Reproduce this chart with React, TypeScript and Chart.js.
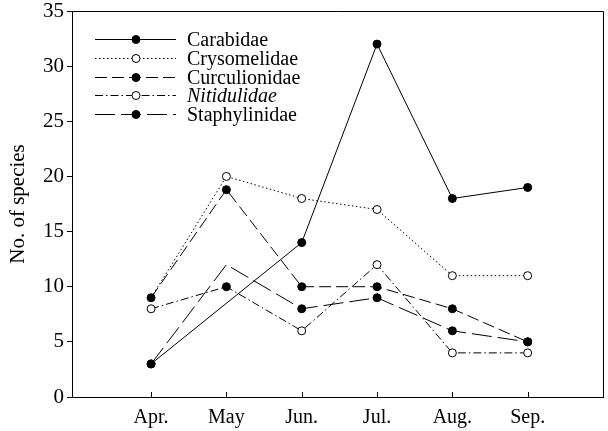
import React, { useEffect, useRef } from "react";
import { Chart, registerables } from "chart.js";

Chart.register(...registerables);

const months = ["Apr.", "May", "Jun.", "Jul.", "Aug.", "Sep."];
const carabidae: (number | null)[] = [3, null, 14, 32, 18, 19];
const crysomelidae = [9, 20, 18, 17, 11, 11];
const curculionidae = [9, 18.8, 10, 10, 8, 5];
const nitidulidae = [8, 10, 6, 12, 4, 4];
const staphylinidae = [3, 12, 8, 9, 6, 5];
const yTicks = [0, 5, 10, 15, 20, 25, 30, 35];

const FONT = "'Liberation Serif', 'DejaVu Serif', serif";

const toPts = (arr: (number | null)[]) => arr.map((v, i) => ({ x: i, y: v }));

const frameAndLegend = {
  id: "frameAndLegend",
  afterDraw(chart: any) {
    const { ctx, chartArea } = chart;
    const { left, right, top, bottom } = chartArea;
    ctx.save();
    ctx.strokeStyle = "#000";
    ctx.lineWidth = 1;
    ctx.setLineDash([]);
    ctx.beginPath();
    ctx.moveTo(left, top + 0.5);
    ctx.lineTo(right + 0.5, top + 0.5);
    ctx.lineTo(right + 0.5, bottom);
    ctx.stroke();
    const xs = chart.scales.x;
    months.forEach((_, i) => {
      const px = Math.round(xs.getPixelForValue(i)) + 0.5;
      ctx.beginPath();
      ctx.moveTo(px, bottom);
      ctx.lineTo(px, bottom - 5);
      ctx.stroke();
    });
    const x0 = 95, x1 = 176, xm = 136, tx = 187;
    chart.data.datasets.forEach((ds: any, i: number) => {
      const y = Math.round(39 + i * 18.8) + 0.5;
      ctx.strokeStyle = "#000";
      ctx.lineWidth = 1;
      ctx.setLineDash(ds.borderDash || []);
      ctx.beginPath();
      ctx.moveTo(x0, y);
      ctx.lineTo(x1, y);
      ctx.stroke();
      ctx.setLineDash([]);
      ctx.beginPath();
      ctx.arc(xm, y, 4, 0, Math.PI * 2);
      ctx.fillStyle = ds.legendFill;
      ctx.fill();
      ctx.stroke();
      ctx.fillStyle = "#000";
      ctx.font = (ds.italic ? "italic " : "") + "20px " + FONT;
      ctx.textBaseline = "middle";
      ctx.textAlign = "left";
      ctx.fillText(ds.label, tx, y + 1);
    });
    ctx.restore();
  },
};

export default function App() {
  const ref = useRef<HTMLCanvasElement | null>(null);
  useEffect(() => {
    document.body.style.margin = "0";
    const base = {
      borderColor: "#000",
      borderWidth: 1,
      pointBorderColor: "#000",
      pointBorderWidth: 1,
      pointRadius: 4,
      tension: 0,
      fill: false,
    };
    const chart = new Chart(ref.current as HTMLCanvasElement, {
      type: "line",
      data: {
        datasets: [
          {
            ...base,
            label: "Carabidae",
            data: toPts(carabidae),
            spanGaps: true,
            pointBackgroundColor: "#000",
            legendFill: "#000",
          },
          {
            ...base,
            label: "Crysomelidae",
            data: toPts(crysomelidae),
            borderDash: [1.5, 2.5],
            pointBackgroundColor: "#fff",
            pointRadius: [0, 4, 4, 4, 4, 4],
            legendFill: "#fff",
          },
          {
            ...base,
            label: "Curculionidae",
            data: toPts(curculionidae),
            borderDash: [12, 5],
            pointBackgroundColor: "#000",
            legendFill: "#000",
          },
          {
            ...base,
            label: "Nitidulidae",
            data: toPts(nitidulidae),
            borderDash: [8, 3, 1.5, 3],
            pointBackgroundColor: ["#fff", "#000", "#fff", "#fff", "#fff", "#fff"],
            legendFill: "#fff",
            italic: true,
          },
          {
            ...base,
            label: "Staphylinidae",
            data: toPts(staphylinidae),
            borderDash: [20, 6],
            pointBackgroundColor: "#000",
            pointRadius: [4, 0, 4, 4, 4, 4],
            legendFill: "#000",
          },
        ] as any,
      },
      options: {
        animation: false,
        responsive: false,
        maintainAspectRatio: false,
        layout: { padding: { top: 11, right: 4, left: 0, bottom: 0 } },
        plugins: { legend: { display: false }, tooltip: { enabled: false } },
        scales: {
          x: {
            type: "linear",
            min: -1.05,
            max: 6.0,
            afterBuildTicks: (s: any) => {
              s.ticks = months.map((_, i) => ({ value: i }));
            },
            afterFit: (s: any) => {
              s.height = 34;
              s.paddingLeft = 0;
              s.paddingRight = 0;
            },
            grid: { display: false, drawTicks: false, tickLength: 0 },
            border: { display: true, color: "#000", width: 1 },
            ticks: {
              color: "#000",
              font: { family: FONT, size: 20 },
              padding: 9,
              maxRotation: 0,
              autoSkip: false,
              callback: (v: any) => months[v as number] ?? "",
            },
          },
          y: {
            min: 0,
            max: 35,
            afterBuildTicks: (s: any) => {
              s.ticks = yTicks.map((v) => ({ value: v }));
            },
            afterFit: (s: any) => {
              s.width = 72;
              s.paddingTop = 0;
              s.paddingBottom = 0;
            },
            grid: {
              display: true,
              drawOnChartArea: false,
              drawTicks: true,
              tickLength: 5,
              color: "#000",
            },
            border: { display: true, color: "#000", width: 1 },
            title: {
              display: true,
              text: "No. of species",
              color: "#000",
              font: { family: FONT, size: 21 },
              padding: { top: 6, bottom: 0 },
            },
            ticks: {
              color: "#000",
              font: { family: FONT, size: 21 },
              padding: 3,
            },
          },
        },
      },
      plugins: [frameAndLegend],
    } as any);
    return () => chart.destroy();
  }, []);
  return (
    <div style={{ width: 608, height: 431 }}>
      <canvas ref={ref} width={608} height={431} style={{ display: "block" }} />
    </div>
  );
}
